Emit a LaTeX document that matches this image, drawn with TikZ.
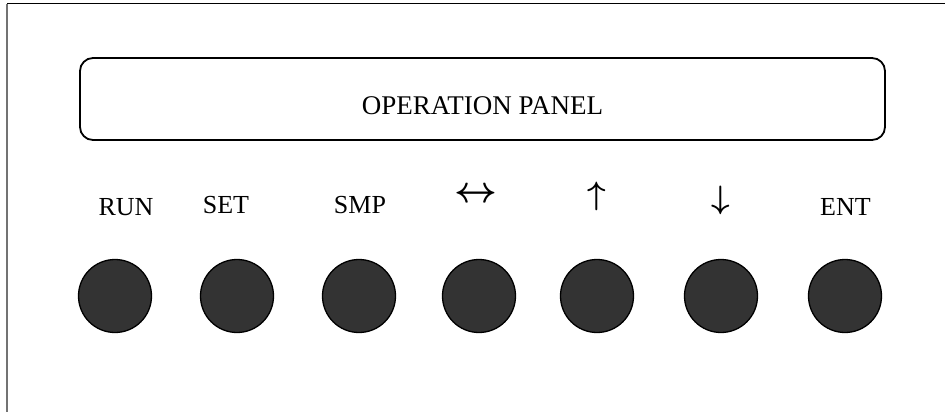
\documentclass[tikz,border=0pt]{standalone}
\usepackage{fontspec}
\setmainfont{Liberation Serif}
\begin{document}
\begin{tikzpicture}[x=1pt,y=-1pt,
  btn/.style={circle,draw=black,line width=1.3pt,fill=btngray,minimum size=73pt,inner sep=0pt},
  lbl/.style={anchor=base,inner sep=0pt,font=\fontsize{26}{30}\selectfont},
  arr/.style={anchor=center,inner sep=0pt,font=\fontsize{24.88}{28}\selectfont},
  panel/.style={draw=black,line width=1.8pt,rounded corners=13pt,minimum width=805pt,minimum height=82pt,inner sep=0pt}]
\definecolor{btngray}{HTML}{333333}
\useasboundingbox (0,0) rectangle (945,412);
\draw[line width=1pt,black] (7,4) -- (946,4);
\draw[line width=1.3pt,black!55] (7,4) -- (7,413);
\node[panel] (panel) at (482.5,99) {};
\node[lbl,font=\fontsize{27}{31}\selectfont] (ptext) at (482.5,114) {OPERATION PANEL};
\node[btn] (b1) at (115,296) {};
\node[btn] (b2) at (237,296) {};
\node[btn] (b3) at (359,296) {};
\node[btn] (b4) at (479,296) {};
\node[btn] (b5) at (597,296) {};
\node[btn] (b6) at (721,296) {};
\node[btn] (b7) at (845,296) {};
\node[lbl] (l1) at (126,215) {RUN};
\node[lbl] (l2) at (226,213) {SET};
\node[lbl] (l3) at (360,213) {SMP};
\node[arr] (l4) at (476,195) {\scalebox{1.5}{\boldmath$\leftrightarrow$}};
\node[arr] (l5) at (597,196) {\scalebox{1.3}{\boldmath$\uparrow$}};
\node[arr] (l6) at (721,200) {\scalebox{1.3}{\boldmath$\downarrow$}};
\node[lbl] (l7) at (845.5,215) {ENT};
\end{tikzpicture}
\end{document}
